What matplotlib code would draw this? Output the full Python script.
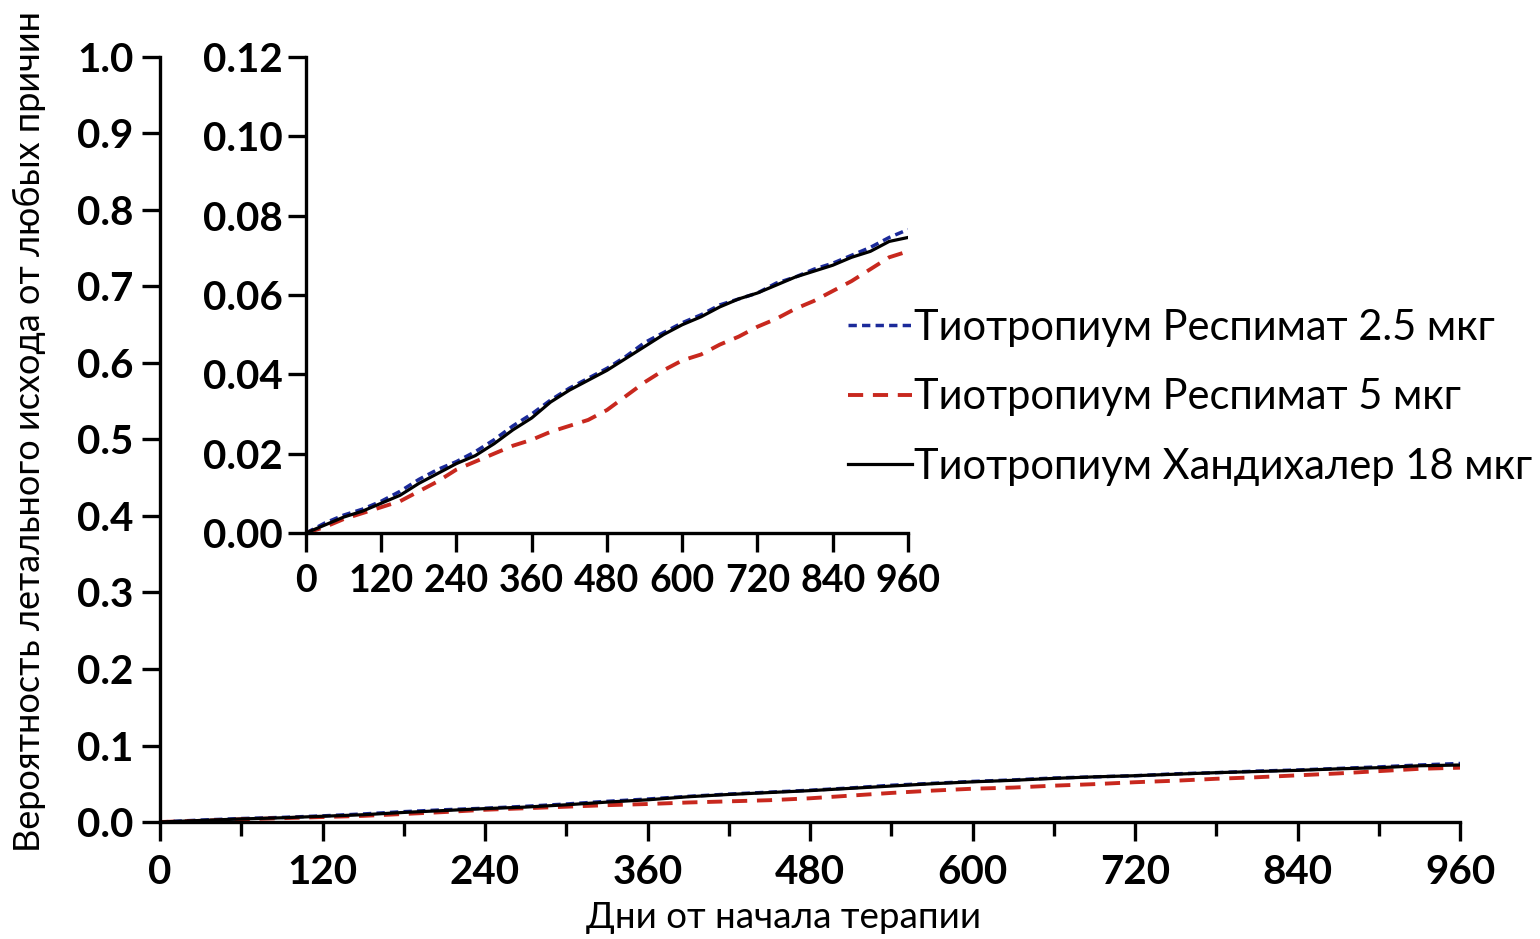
import matplotlib

matplotlib.use("Agg")
import matplotlib.pyplot as plt
from matplotlib.ticker import MultipleLocator, FixedLocator

# days from start of therapy
days = [0, 30, 60, 90, 120, 150, 180, 210, 240, 270, 300, 330, 360, 390, 420, 450, 480,
        510, 540, 570, 600, 630, 660, 690, 720, 750, 780, 810, 840, 870, 900, 930, 960]

# cumulative probability of death
respimat_25 = [0.000, 0.0025, 0.0045, 0.006, 0.008, 0.0105, 0.0135, 0.016, 0.018, 0.0205,
               0.0235, 0.027, 0.030, 0.0335, 0.0365, 0.039, 0.0415, 0.0445, 0.048, 0.0505,
               0.053, 0.055, 0.0575, 0.059, 0.0605, 0.063, 0.0645, 0.0665, 0.068, 0.070,
               0.072, 0.0745, 0.0765]
respimat_5 = [0.000, 0.0015, 0.0035, 0.005, 0.0065, 0.008, 0.0105, 0.013, 0.016, 0.018,
              0.020, 0.022, 0.0235, 0.0255, 0.027, 0.0285, 0.031, 0.0345, 0.038, 0.041,
              0.0435, 0.045, 0.0475, 0.0495, 0.052, 0.054, 0.0565, 0.0585, 0.061, 0.0635,
              0.0665, 0.0695, 0.071]
handihaler_18 = [0.000, 0.002, 0.004, 0.0055, 0.0075, 0.0095, 0.0125, 0.015, 0.0175, 0.0195,
                 0.0225, 0.026, 0.029, 0.033, 0.036, 0.0385, 0.041, 0.044, 0.047, 0.050,
                 0.0525, 0.0545, 0.057, 0.059, 0.0605, 0.0625, 0.0645, 0.066, 0.0675, 0.0695,
                 0.071, 0.0735, 0.0745]

labels = ["Тиотропиум Респимат 2.5 мкг", "Тиотропиум Респимат 5 мкг",
          "Тиотропиум Хандихалер 18 мкг"]

main_yticks = [0.0, 0.1, 0.2, 0.3, 0.4, 0.5, 0.6, 0.7, 0.8, 0.9, 1.0]
inset_yticks = [0.00, 0.02, 0.04, 0.06, 0.08, 0.10, 0.12]
xticks = [0, 120, 240, 360, 480, 600, 720, 840, 960]

TICK_FONT = ["Lato", "DejaVu Sans"]
TEXT_FONT = ["Lato", "DejaVu Sans"]

styles = [
    dict(color="#1b2a9a", linestyle=(0, (2.4, 1.5)), lw=2.5),
    dict(color="#c8281e", linestyle=(0, (3.9, 2.5)), lw=2.8),
    dict(color="black", linestyle="-", lw=2.3),
]
series = [respimat_25, respimat_5, handihaler_18]

fig = plt.figure(figsize=(15.4, 9.39), dpi=100)
ax = fig.add_axes([0.1039, 0.1246, 0.8442, 0.8147])
ins = fig.add_axes([0.1987, 0.4324, 0.3909, 0.5069])

for axis in (ax, ins):
    for name in ("top", "right"):
        axis.spines[name].set_visible(False)
    for name in ("left", "bottom"):
        axis.spines[name].set_linewidth(2.4)

for y, st in zip(series, styles):
    ax.plot(days, y, **st)
handles = []
for y, st, lab in zip(series, styles, labels):
    (h,) = ins.plot(days, y, label=lab, **st)
    handles.append(h)

# main axes
ax.set_xlim(0, 960)
ax.set_ylim(0, 1.0)
ax.xaxis.set_major_locator(FixedLocator(xticks))
ax.xaxis.set_minor_locator(MultipleLocator(60))
ax.yaxis.set_major_locator(FixedLocator(main_yticks))
ax.set_yticklabels([f"{v:.1f}" for v in main_yticks])
ax.tick_params(axis="x", which="major", length=14, width=2.4, pad=9)
ax.tick_params(axis="x", which="minor", length=10, width=2.4)
ax.tick_params(axis="y", length=13, width=2.4, pad=6)
for lab in ax.get_xticklabels() + ax.get_yticklabels():
    lab.set_family(TICK_FONT)
    lab.set_fontweight("bold")
    lab.set_fontsize(29)

ax.set_xlabel("Дни от начала терапии", family=TEXT_FONT, fontsize=26.5)
ax.xaxis.set_label_coords(0.48, -0.103)
ax.set_ylabel("Вероятность летального исхода от любых причин", family=TEXT_FONT, fontsize=26)
ax.yaxis.set_label_coords(-0.088, 0.511)

# inset axes
ins.set_xlim(0, 960)
ins.set_ylim(0, 0.12)
ins.xaxis.set_major_locator(FixedLocator(xticks))
ins.yaxis.set_major_locator(FixedLocator(inset_yticks))
ins.set_yticklabels([f"{v:.2f}" for v in inset_yticks])
ins.tick_params(axis="x", length=14, width=2.4, pad=8)
ins.tick_params(axis="y", length=13, width=2.4, pad=4)
for lab in ins.get_xticklabels():
    lab.set_family(TICK_FONT)
    lab.set_fontweight("bold")
    lab.set_fontsize(27)
for lab in ins.get_yticklabels():
    lab.set_family(TICK_FONT)
    lab.set_fontweight("bold")
    lab.set_fontsize(29)

leg = ins.legend(handles=handles, loc="center left", bbox_to_anchor=(0.90, 0.285),
                 frameon=False, handlelength=1.55, handletextpad=0.05,
                 labelspacing=0.75, borderaxespad=0, borderpad=0,
                 prop=dict(family=TEXT_FONT, size=30))

fig.savefig("out.png", dpi=100, facecolor="white")
